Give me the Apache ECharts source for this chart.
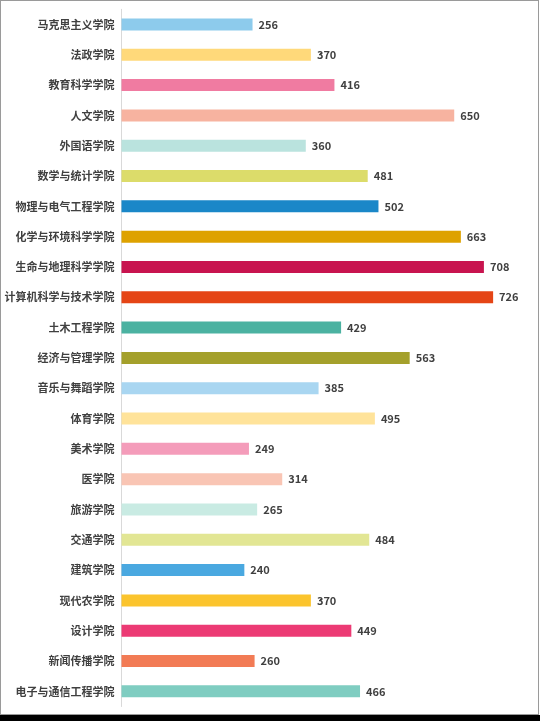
<!DOCTYPE html>
<html>
<head>
<meta charset="utf-8">
<script src="https://cdn.jsdelivr.net/npm/echarts@6/dist/echarts.min.js"></script>
<style>
html,body{margin:0;padding:0;background:#fff;}
#wrap{position:relative;width:540px;height:721px;overflow:hidden;background:#fff;}
#c{position:absolute;left:0;top:0;width:540px;height:721px;}
#frame{position:absolute;left:0;top:0;width:537px;height:713px;border:1px solid #9a9a9a;pointer-events:none;}
#band{position:absolute;left:0;top:715px;width:540px;height:6px;background:#000;}
</style>
</head>
<body>
<div id="wrap">
<div id="c"></div>
<div id="frame"></div>
<div id="band"></div>
</div>
<script>
var categories = ['马克思主义学院','法政学院','教育科学学院','人文学院','外国语学院','数学与统计学院','物理与电气工程学院','化学与环境科学学院','生命与地理科学学院','计算机科学与技术学院','土木工程学院','经济与管理学院','音乐与舞蹈学院','体育学院','美术学院','医学院','旅游学院','交通学院','建筑学院','现代农学院','设计学院','新闻传播学院','电子与通信工程学院'];
var values = [256,370,416,650,360,481,502,663,708,726,429,563,385,495,249,314,265,484,240,370,449,260,466];
var colors = ['#8DCBEC','#FFD97A','#F07BA1','#F7B3A0','#BAE3DE','#DCDC6A','#1A87C8','#DEA200','#C8144F','#E54516','#4BB2A1','#A4A02B','#A9D6F1','#FFE39A','#F49CBA','#F9C5B4','#C9EBE3','#E2E694','#4AA8E0','#FBC42D','#EC3A74','#F27B55','#7FCDC1'];

var chart = echarts.init(document.getElementById('c'), null, {renderer:'canvas'});
chart.setOption({
  animation: false,
  grid: {left: 121.5, right: 9, top: 9.3, bottom: 14.5, containLabel: false},
  xAxis: {type: 'value', min: 0, max: 800, show: false},
  yAxis: {
    type: 'category', data: categories, inverse: true,
    axisLine: {show: true, lineStyle: {color: '#d9d9d9', width: 1}},
    axisTick: {show: false},
    axisLabel: {color: '#404040', fontSize: 11, fontWeight: 'bold', margin: 7, fontFamily: 'Noto Sans CJK SC'}
  },
  series: [{
    type: 'bar', barWidth: 12,
    data: values.map(function(v, i){ return {value: v, itemStyle: {color: colors[i]}}; }),
    label: {show: true, position: 'right', distance: 6, color: '#404040', fontSize: 11, fontWeight: 'bold', fontFamily: 'Noto Sans CJK SC'}
  }]
});
</script>
</body>
</html>
